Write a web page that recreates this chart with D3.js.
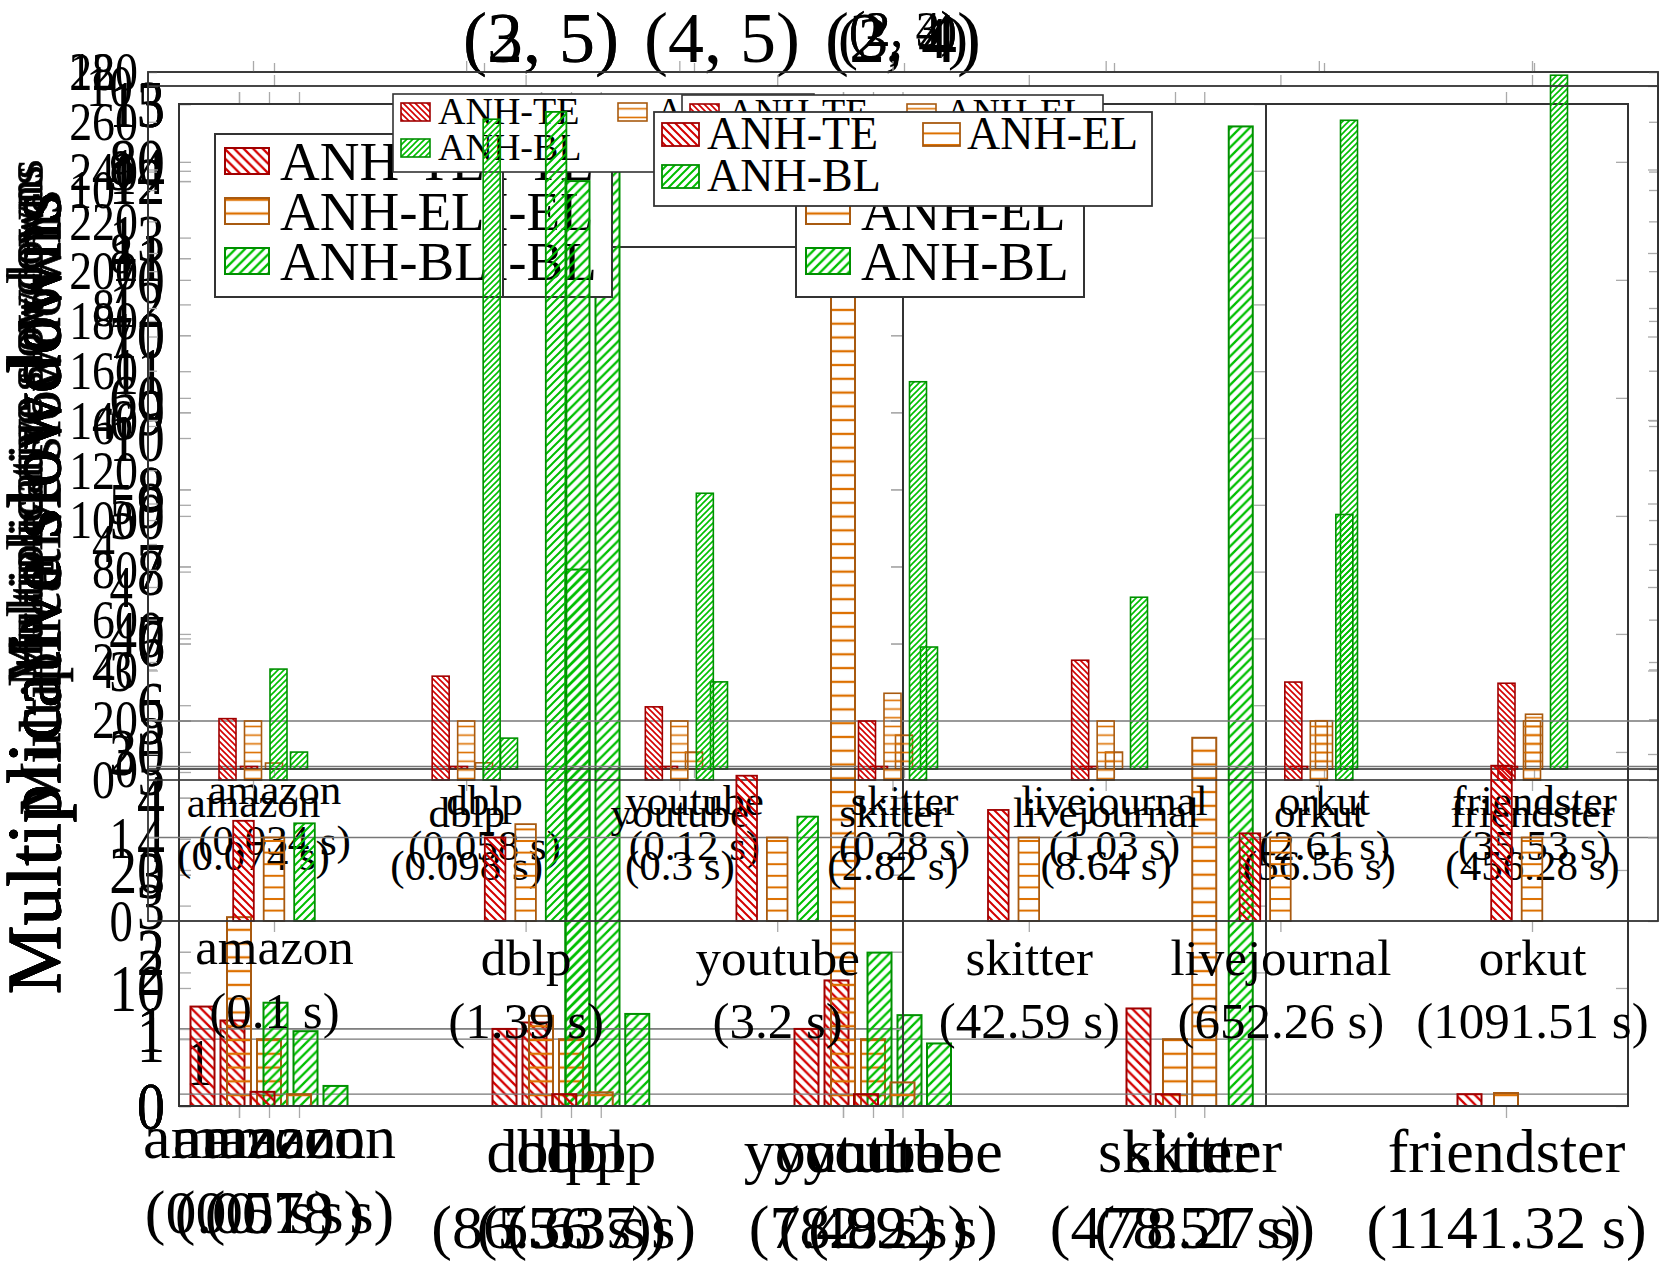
<!DOCTYPE html>
<html><head><meta charset="utf-8">
<style>html,body{margin:0;padding:0;background:#fff}svg{display:block}text{font-family:"Liberation Serif",serif;fill:#000}</style>
<script src="https://cdnjs.cloudflare.com/ajax/libs/d3/7.8.5/d3.min.js"></script>
</head><body><div id="c"></div>
<script>
// ---- data ----
const seriesNames = ["ANH-TE","ANH-EL","ANH-BL"];
const cats7 = ["amazon","dblp","youtube","skitter","livejournal","orkut","friendster"];
const cats6 = ["amazon","dblp","youtube","skitter","livejournal","orkut"];
const cats5 = ["amazon","dblp","youtube","skitter","friendster"];
const cats4 = ["amazon","dblp","youtube","skitter"];
const cats3 = ["amazon","dblp","youtube"];

const timesS7b = ["(0.034 s)","(0.058 s)","(0.12 s)","(0.28 s)","(1.03 s)","(2.61 s)","(35.53 s)"];
const redS7b = [1,1,1,1,1,1,1];
const orangeS7b = [2.4,2.5,6.8,13.6,6.8,19.4,22];
const greenS7b = [6.8,12.4,35,49,69,260.6,278.7];
const ticksS7b = [0,20,40,60,80,100,120,140,160,180,200,220,240,260,280];

const timesS7a = ["(0.074 s)","(0.098 s)","(0.3 s)","(2.82 s)","(8.64 s)","(56.56 s)","(456.28 s)"];
const redS7a = [1.04,1.76,1.24,1,2.03,1.66,1.64];
const orangeS7a = [1,1,1,1.47,1,1,1];
const greenS7a = [1.88,11.2,4.86,6.75,null,4.5,null];
const ticksS7a = [0,2,4,6,8,10,12];

const timesM = ["(0.1 s)","(1.39 s)","(3.2 s)","(42.59 s)","(652.26 s)","(1091.51 s)"];
const redM = [1.2,1,1.74,1.33,1.05,1.86];
const orangeM = [1,1.16,1,1,1,1];
const greenM = [1.17,9.69,1.25,null,null,null];
const ticksM = [0,1,2,3,4,5,6,7,8,9,10];

const timesL5 = ["(0.18 s)","(5.37 s)","(2.92 s)","(78.27 s)","(1141.32 s)"];
const redL5 = [1.2,1,1,1,1];
const orangeL5 = [1,1.16,2,31.2,1.1];
const greenL5 = [1.7,7.8,5.3,83,null];
const ticksL5 = [0,10,20,30,40,50,60,70,80];

const timesL4 = ["(0.07 s)","(5.63 s)","(8.92 s)","(478.51 s)"];
const redL4 = [1.28,1.25,1.88,1.46];
const orangeL4 = [1,1,1,1];
const greenL4 = [1.12,14.5,1.36,null];
const ticksL4 = [0,1,2,3,4,5,6,7,8,9,10,11,12,13,14,15];

const timesL3 = ["(0.05 s)","(86.36 s)","(7.48 s)"];
const redL3 = [1.29,1,1];
const orangeL3 = [2.45,1.17,11];
const greenL3 = [1.34,12,1.99];
const ticksL3 = [0,1,2,3,4,5,6,7,8,9,10,11,12,13];
const greenL3b = [null,6.96,null];

const yLabel = "Multiplicative slowdowns";

// ---- layout ----
const W = 1659, H = 1270;
const svg = d3.select("#c").append("svg").attr("width",W).attr("height",H).attr("viewBox",`0 0 ${W} ${H}`);
const defs = svg.append("defs");
const colors = [
  {fill:"#d40000", stroke:"#a00000", kind:"nw"},
  {fill:"#dd7000", stroke:"#a85a10", kind:"h"},
  {fill:"#00bf00", stroke:"#009000", kind:"ne"}
];
function pattern(id,kind,p,col,sw){
  const pt = defs.append("pattern").attr("id",id).attr("patternUnits","userSpaceOnUse").attr("width",p).attr("height",p);
  const d = kind==="nw" ? `M0,0L${p},${p}M-1,${p-1}L1,${p+1}M${p-1},-1L${p+1},1`
          : kind==="ne" ? `M0,${p}L${p},0M-1,1L1,-1M${p-1},${p+1}L${p+1},${p-1}`
          : `M0,${p/2}L${p},${p/2}`;
  pt.append("path").attr("d",d).attr("stroke",col).attr("stroke-width",sw).attr("fill","none");
}
[["S",6,1.6],["M",8,2],["L",9.5,2.3]].forEach(([k,p,sw])=>{
  colors.forEach((c,i)=>pattern(`p${k}${i}`,c.kind,c.kind==="h"?p*1.45:p,c.fill,sw));
});

function drawFrame(g,f){
  g.append("rect").attr("x",f.left).attr("y",f.top).attr("width",f.right-f.left).attr("height",f.bottom-f.top)
    .attr("fill","none").attr("stroke","#333").attr("stroke-width",f.frameW);
}
function styleTicks(sel){
  sel.select(".domain").remove();
  sel.selectAll("line").attr("stroke","#aaa").attr("stroke-width",1.3);
}
function drawAxes(g,f,x,y){
  g.append("line").attr("x1",f.left).attr("x2",f.right).attr("y1",y(1)).attr("y2",y(1)).attr("stroke","#777").attr("stroke-width",1.3);
  g.append("g").attr("transform",`translate(0,${f.top})`)
    .call(d3.axisTop(x).tickSize(f.xTick).tickFormat("")).call(styleTicks);
  const b = g.append("g").attr("transform",`translate(0,${f.bottom})`)
    .call(d3.axisBottom(x).tickSize(f.xTick).tickFormat(d=>f.times?d:"")).call(styleTicks);
  b.selectAll("text").attr("fill","#000").style("font-family",'"Liberation Serif",serif')
    .attr("font-size",f.xFont).attr("dy",null)
    .attr("y",d=>(d==="amazon"?f.rows[0]:f.rows[2])-f.bottom);
  if(f.times){
    b.selectAll(".tick").append("text").attr("text-anchor","middle").attr("font-size",f.xFont).attr("fill","#000")
      .attr("y",d=>(d==="amazon"?f.rows[1]:f.rows[3])-f.bottom)
      .text(d=>f.times[f.cats.indexOf(d)]);
  }
  const l = g.append("g").attr("transform",`translate(${f.left},0)`)
    .call(d3.axisRight(y).tickValues(f.yTicks).tickSize(f.yTick).tickFormat(d3.format("d"))).call(styleTicks);
  l.selectAll("text").attr("fill","#000").style("font-family",'"Liberation Serif",serif')
    .attr("font-size",f.yFont).attr("text-anchor","end").attr("x",0).attr("dy","0.33em")
    .attr("transform",`translate(${-f.yGap},0) scale(${f.ySx},1)`);
  g.append("g").attr("transform",`translate(${f.right},0)`)
    .call(d3.axisLeft(y).tickValues(f.yTicks).tickSize(f.yTick).tickFormat("")).call(styleTicks);
}
function drawBars(g,f,x,y){
  [f.red,f.orange,f.green].forEach((vals,i)=>{
    const rows = f.cats.map((c,j)=>({c,v:vals[j]})).filter(d=>d.v!=null);
    g.append("g").selectAll("rect").data(rows).join("rect")
      .attr("x",d=>x(d.c)+(i-1)*f.barOff-f.barW/2)
      .attr("width",f.barW)
      .attr("y",d=>y(d.v))
      .attr("height",d=>y(0)-y(d.v))
      .attr("fill",`url(#p${f.pat}${i})`)
      .attr("stroke",colors[i].stroke).attr("stroke-width",f.barSw);
  });
}
function drawLegend(g,f){
  const L = f.legend;
  g.append("rect").attr("x",L.x).attr("y",L.y).attr("width",L.w).attr("height",L.h)
    .attr("fill","#fff").attr("stroke","#333").attr("stroke-width",f.frameW);
  L.items.forEach((it,i)=>{
    if(it.blank) return;
    g.append("rect").attr("x",it.sx).attr("y",it.sy).attr("width",L.sw).attr("height",L.sh)
      .attr("fill",`url(#p${f.pat}${i})`).attr("stroke",colors[i].stroke).attr("stroke-width",f.barSw);
    g.append("text").attr("x",it.tx).attr("y",it.ty).attr("font-size",L.font).text(seriesNames[i]);
  });
}
function drawFig(f){
  const g = svg.append("g").attr("class",f.name);
  const x = d3.scalePoint().domain(f.cats).range([f.x0,f.x1]);
  const y = d3.scaleLinear().domain([0,f.ymax]).range([f.bottom,f.top]);
  drawAxes(g,f,x,y);
  drawBars(g,f,x,y);
  drawFrame(g,f);
  if(f.legend) drawLegend(g,f);
  g.append("text").attr("x",f.titleX).attr("y",f.titleY).attr("text-anchor","middle").attr("font-size",f.titleFont).text(f.title);
  if(f.labelFont){
    g.append("text").attr("transform",`translate(${f.labelX},${f.labelC}) rotate(-90)`).attr("text-anchor","middle")
      .attr("font-size",f.labelFont).attr("stroke","#000").attr("stroke-width",.7).text(yLabel);
  }
  if(f.extra){
    g.append("text").attr("x",f.extra.x).attr("y",f.extra.y).attr("text-anchor","middle")
      .attr("font-size",f.yFont).attr("transform",`translate(${f.extra.x*(1-f.ySx)},0) scale(${f.ySx},1)`).text(f.extra.t);
  }
}
const Lbase = {left:179,top:104,bottom:1106,frameW:2,xTick:12,yTick:12,pat:"L",barW:24,barOff:36.5,barSw:2,
  xFont:62,rows:[1158,1233,1172,1248],yFont:68,yGap:14,ySx:.82,titleFont:72,titleY:62,labelFont:77,labelX:60,labelC:593};
function legL(dx){return {x:215+dx,y:134,w:288,h:163,sw:44,sh:26,font:55,items:[
  {sx:225+dx,sy:148,tx:280+dx,ty:180},{sx:225+dx,sy:198,tx:280+dx,ty:230},{sx:225+dx,sy:248,tx:280+dx,ty:280}]};}
function legS(dx,dy){return {x:393+dx,y:94+dy,w:421,h:78,sw:29,sh:18,font:38,items:[
  {sx:401+dx,sy:103+dy,tx:438+dx,ty:124+dy},{sx:618+dx,sy:103+dy,tx:656+dx,ty:124+dy},{sx:401+dx,sy:139+dy,tx:438+dx,ty:160+dy}]};}

const figs = [
 {...Lbase,name:"L3b",cats:cats3,times:null,red:[null,null,null],orange:[null,null,null],green:greenL3b,
  right:903,x0:239,x1:843,ymax:13,yTicks:ticksL3,title:"(2, 5)",titleX:541,extra:{x:199,y:1085,t:"1"},
  legend:{x:500,y:130,w:400,h:117,sw:0,sh:0,font:0,items:[{blank:1},{blank:1},{blank:1}]}},
 {...Lbase,name:"L4",cats:cats4,times:timesL4,red:redL4,orange:orangeL4,green:greenL4,
  right:1266,x0:269,x1:1175,ymax:15,yTicks:ticksL4,title:"(4, 5)",titleX:722,legend:legL(109)},
 {...Lbase,name:"L3",cats:cats3,times:timesL3,red:redL3,orange:orangeL3,green:greenL3,
  right:903,x0:239,x1:843,ymax:13,yTicks:ticksL3,title:"(3, 5)",titleX:541,legend:legL(0)},
 {...Lbase,name:"L5",cats:cats5,times:timesL5,red:redL5,orange:orangeL5,green:greenL5,
  right:1628,x0:299,x1:1506,ymax:84.9,yTicks:ticksL5,title:"(2, 4)",titleX:903,legend:legL(581)},
 {name:"S7b",cats:cats7,times:timesS7b,red:redS7b,orange:orangeS7b,green:greenS7b,
  left:148,right:1658,top:72,bottom:769,x0:274,x1:1534,ymax:280,yTicks:ticksS7b,frameW:1.6,xTick:9,yTick:9,pat:"S",barW:17,barOff:25,barSw:1.6,
  xFont:43,rows:[804,855,815,860],yFont:54,yGap:10,ySx:.85,title:"(2, 3)",titleFont:50,titleX:903,titleY:46,
  labelFont:50,labelX:42,labelC:420,legend:legS(0,0)},
 {name:"S7a",cats:cats7,times:timesS7a,red:redS7a,orange:orangeS7a,green:greenS7a,
  left:148,right:1658,top:72,bottom:780,x0:253,x1:1532,ymax:12,yTicks:ticksS7a,frameW:1.6,xTick:11,yTick:9,pat:"S",barW:17,barOff:25.5,barSw:1.6,
  xFont:43,rows:[817,870,827,880],yFont:54,yGap:33,ySx:.85,title:"(2, 4)",titleFont:50,titleX:903,titleY:46,
  labelFont:50,labelX:42,labelC:426,legend:legS(289,1)},
 {name:"M",cats:cats6,times:timesM,red:redM,orange:orangeM,green:greenM,
  left:148,right:1658,top:86,bottom:921,x0:274,x1:1532,ymax:10,yTicks:ticksM,frameW:1.8,xTick:11,yTick:10,pat:"M",barW:20.6,barOff:30.5,barSw:1.8,
  xFont:51,rows:[964,1028,975,1038],yFont:60,yGap:15,ySx:.78,title:"(3, 4)",titleFont:60,titleX:903,titleY:58,
  labelFont:60,labelX:60,labelC:503,
  legend:{x:654,y:112,w:498,h:94,sw:37,sh:23,font:46,items:[
    {sx:662,sy:123,tx:707,ty:149},{sx:923,sy:123,tx:967,ty:149},{sx:662,sy:165,tx:707,ty:191}]}}
];
figs.forEach(drawFig);
</script></body></html>
